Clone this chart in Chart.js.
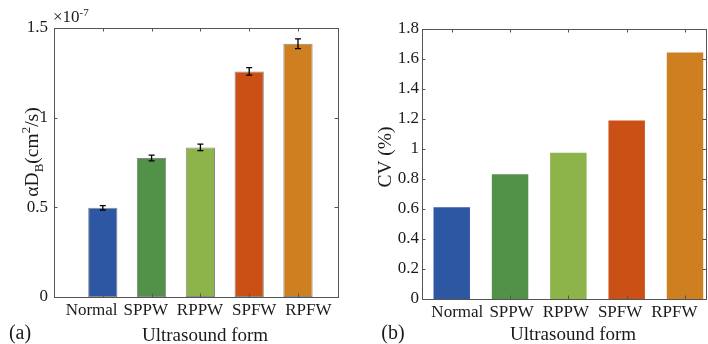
<!DOCTYPE html>
<html>
<head>
<meta charset="utf-8">
<script src="https://cdn.jsdelivr.net/npm/chart.js@4.4.1/dist/chart.umd.min.js"></script>
<style>
  html, body { margin: 0; padding: 0; background: #fff; }
  #wrap { position: relative; width: 708px; height: 344px; overflow: hidden; }
  canvas { position: absolute; top: 0; }
</style>
</head>
<body>
<div id="wrap">
  <canvas id="chartA" width="354" height="344" style="left:0"></canvas>
  <canvas id="chartB" width="354" height="344" style="left:354px"></canvas>
</div>
<script>
// data
const categories = ['Normal', 'SPPW', 'RPPW', 'SPFW', 'RPFW'];
const positions = [1, 2, 3, 4, 5];
const diffusionValues = [0.497, 0.775, 0.834, 1.258, 1.412];   // x 1e-7 cm^2/s
const diffusionErrors = [0.012, 0.016, 0.018, 0.021, 0.027];
const cvValues = [0.612, 0.832, 0.975, 1.19, 1.644];             // %
const yTicksA = [0, 0.5, 1, 1.5];
const yTicksB = [0, 0.2, 0.4, 0.6, 0.8, 1, 1.2, 1.4, 1.6, 1.8];
const barColors = ['#2E57A3', '#529148', '#8DB34B', '#CB5016', '#CE8020'];

Chart.defaults.font.family = '"Liberation Serif", "DejaVu Serif", serif';
Chart.defaults.color = '#1a1a1a';

const axisColor = '#555';
const serif = '"Liberation Serif", serif';

// box round the plot area plus inward ticks on all sides (matlab style)
const boxPlugin = {
    id: 'box',
    afterDraw(chart) {
        const ctx = chart.ctx;
        const a = chart.chartArea;
        const xs = chart.scales.x;
        const ys = chart.scales.y;
        ctx.save();
        ctx.strokeStyle = axisColor;
        ctx.lineWidth = 1;
        ctx.strokeRect(Math.round(a.left) + 0.5, Math.round(a.top) + 0.5,
            Math.round(a.right - a.left), Math.round(a.bottom - a.top));
        const len = 3.5;
        ctx.beginPath();
        positions.forEach(v => {
            const px = Math.round(xs.getPixelForValue(v)) + 0.5;
            ctx.moveTo(px, a.bottom); ctx.lineTo(px, a.bottom - len);
            ctx.moveTo(px, a.top); ctx.lineTo(px, a.top + len);
        });
        ys.ticks.forEach(t => {
            const py = Math.round(ys.getPixelForValue(t.value)) + 0.5;
            ctx.moveTo(a.left, py); ctx.lineTo(a.left + len, py);
            ctx.moveTo(a.right, py); ctx.lineTo(a.right - len, py);
        });
        ctx.stroke();
        ctx.restore();
    }
};

function errorBarPlugin(values, errors) {
    return {
        id: 'errorBars',
        afterDatasetsDraw(chart) {
            if (!errors) return;
            const ctx = chart.ctx;
            const ys = chart.scales.y;
            const meta = chart.getDatasetMeta(0);
            ctx.save();
            ctx.strokeStyle = '#000';
            ctx.lineWidth = 1.3;
            meta.data.forEach((bar, i) => {
                const x = bar.x;
                const yTop = ys.getPixelForValue(values[i] + errors[i]);
                const yBot = ys.getPixelForValue(values[i] - errors[i]);
                ctx.beginPath();
                ctx.moveTo(x, yTop); ctx.lineTo(x, yBot);
                ctx.moveTo(x - 3, yTop); ctx.lineTo(x + 3, yTop);
                ctx.moveTo(x - 3, yBot); ctx.lineTo(x + 3, yBot);
                ctx.stroke();
            });
            ctx.restore();
        }
    };
}

// free text: axis titles, panel letters, exponent
function textPlugin(items) {
    return {
        id: 'texts',
        afterDraw(chart) {
            const ctx = chart.ctx;
            ctx.save();
            ctx.fillStyle = '#1a1a1a';
            ctx.textBaseline = 'alphabetic';
            ctx.textAlign = 'left';
            items.forEach(item => {
                ctx.save();
                ctx.translate(item.x, item.y);
                if (item.rotate) ctx.rotate(item.rotate);
                const widths = item.parts.map(p => {
                    ctx.font = p.size + 'px ' + serif;
                    return ctx.measureText(p.text).width;
                });
                const total = widths.reduce((s, w) => s + w, 0);
                let cx = item.align === 'left' ? 0 : -total / 2;
                item.parts.forEach((p, i) => {
                    ctx.font = p.size + 'px ' + serif;
                    ctx.fillText(p.text, cx, p.shift || 0);
                    cx += widths[i];
                });
                ctx.restore();
            });
            ctx.restore();
        }
    };
}

function makeChart(id, values, opts) {
    const points = positions.map((p, i) => ({ x: p, y: values[i] }));
    return new Chart(document.getElementById(id), {
        type: 'bar',
        data: {
            datasets: [{
                data: points,
                backgroundColor: barColors,
                borderColor: opts.borderColor,
                borderWidth: opts.borderWidth,
                borderSkipped: false,
                barPercentage: opts.barPct,
                categoryPercentage: 1
            }]
        },
        options: {
            responsive: false,
            animation: false,
            devicePixelRatio: 1,
            layout: { padding: opts.padding },
            plugins: {
                legend: { display: false },
                tooltip: { enabled: false }
            },
            scales: {
                x: {
                    type: 'linear',
                    offset: false,
                    min: opts.xMin,
                    max: opts.xMax,
                    afterBuildTicks: s => { s.ticks = positions.map(v => ({ value: v })); },
                    afterFit: s => { s.height = 0; },
                    grid: { display: false, drawTicks: false },
                    border: { display: false },
                    ticks: { display: false }
                },
                // category names sit a little wider apart than the bars in the original
                xLabels: {
                    type: 'linear',
                    position: 'bottom',
                    offset: false,
                    min: opts.labelMin,
                    max: opts.labelMax,
                    afterBuildTicks: s => { s.ticks = positions.map(v => ({ value: v })); },
                    afterFit: s => { s.height = opts.xHeight; },
                    grid: { display: false, drawTicks: false },
                    border: { display: false },
                    ticks: {
                        autoSkip: false,
                        maxRotation: 0,
                        padding: 3,
                        font: { size: 17 },
                        callback: v => categories[v - 1]
                    }
                },
                y: {
                    min: 0,
                    max: opts.yMax,
                    afterBuildTicks: s => { s.ticks = opts.yTicks.map(v => ({ value: v })); },
                    afterFit: s => { s.width = opts.yWidth; },
                    grid: { display: false, drawTicks: false },
                    border: { display: false },
                    ticks: {
                        padding: opts.yPad,
                        font: { size: 17 },
                        callback: v => String(Number(v.toFixed(2)))
                    }
                }
            }
        },
        plugins: [errorBarPlugin(values, opts.errors), boxPlugin, textPlugin(opts.texts)]
    });
}

makeChart('chartA', diffusionValues, {
    errors: diffusionErrors,
    borderColor: 'rgba(40,40,40,0.55)',
    borderWidth: 1,
    barPct: 0.6,
    xMin: 0, xMax: 5.82,
    labelMin: 0.306, labelMax: 5.546,
    yMax: 1.5, yTicks: yTicksA,
    padding: { left: 0, top: 28, right: 16, bottom: 0 },
    xHeight: 47, yWidth: 54, yPad: 6,
    texts: [
        { x: 38, y: 152, rotate: -Math.PI / 2, parts: [
            { text: '\u03b1D', size: 19.5 },
            { text: 'B', size: 13, shift: 5 },
            { text: '(cm', size: 19.5 },
            { text: '2', size: 13, shift: -8 },
            { text: '/s)', size: 19.5 }
        ] },
        { x: 53, y: 22, align: 'left', parts: [
            { text: '\u00d710', size: 17 },
            { text: '-7', size: 11, shift: -6 }
        ] },
        { x: 205, y: 341, parts: [{ text: 'Ultrasound form', size: 19 }] },
        { x: 20, y: 339, parts: [{ text: '(a)', size: 20 }] }
    ]
});

makeChart('chartB', cvValues, {
    errors: null,
    borderColor: 'rgba(255,255,255,0)',
    borderWidth: 0,
    barPct: 0.625,
    xMin: 0.49, xMax: 5.36,
    labelMin: 0.349, labelMax: 5.583,
    yMax: 1.8, yTicks: yTicksB,
    padding: { left: 0, top: 29, right: 2, bottom: 0 },
    xHeight: 45, yWidth: 68, yPad: 3,
    texts: [
        { x: 37, y: 157, rotate: -Math.PI / 2, parts: [{ text: 'CV (%)', size: 19.5 }] },
        { x: 219, y: 340, parts: [{ text: 'Ultrasound form', size: 19 }] },
        { x: 39, y: 339, parts: [{ text: '(b)', size: 20 }] }
    ]
});
</script>
</body>
</html>
